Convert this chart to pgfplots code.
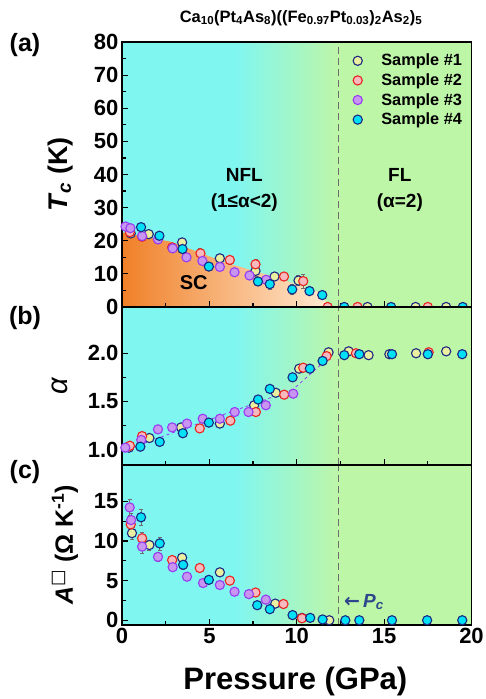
\documentclass[border=0pt]{standalone}
\usepackage{pgfplots}
\pgfplotsset{compat=1.18}
\usepackage{fontspec}
\setmainfont{Liberation Sans}
\newfontfamily\dejavu{DejaVu Sans}
\definecolor{cbg}{RGB}{128,246,240}
\definecolor{gbg}{RGB}{190,246,168}
\definecolor{scL}{RGB}{240,128,40}
\definecolor{scR}{RGB}{255,234,210}
\definecolor{sonee}{RGB}{30,40,130}
\definecolor{sonef}{RGB}{234,240,160}
\definecolor{stwoe}{RGB}{235,35,30}
\definecolor{stwof}{RGB}{245,185,190}
\definecolor{sthreee}{RGB}{150,60,240}
\definecolor{sthreef}{RGB}{200,150,240}
\definecolor{sfoure}{RGB}{25,40,130}
\definecolor{sfourf}{RGB}{0,225,245}
\definecolor{pcblue}{RGB}{45,70,140}
\definecolor{dgray}{RGB}{110,110,110}
\pgfplotsset{
  base/.style={scale only axis, width=349.5pt, xmin=0, xmax=20, xtick={0,5,...,20},
    minor x tick num=1, tick align=inside, xtick pos=bottom, ytick pos=left,
    axis line style={line width=1.6pt}, major tick length=6pt, minor tick length=4pt,
    every tick/.style={black, line width=1.2pt},
    tick label style={font=\fontsize{22}{24}\selectfont\bfseries},
    /pgf/number format/assume math mode=true, axis on top},
  s1/.style={only marks, mark=*, mark size=4.6pt, mark options={draw=sonee, fill=sonef, line width=1.1pt}},
  s2/.style={only marks, mark=*, mark size=4.6pt, mark options={draw=stwoe, fill=stwof, line width=1.1pt}},
  s3/.style={only marks, mark=*, mark size=4.6pt, mark options={draw=sthreee, fill=sthreef, line width=1.1pt}},
  s4/.style={only marks, mark=*, mark size=4.6pt, mark options={draw=sfoure, fill=sfourf, line width=1.1pt}},
  eb/.style={error bars/.cd, y dir=both, y explicit, error bar style={dgray, line width=0.5pt},
    error mark options={rotate=90, dgray, mark size=2pt, line width=0.5pt}},
}
\newcommand{\bg}[2]{%
  \fill[cbg] (axis cs:0,#1) rectangle (axis cs:6.5,#2);
  \shade[left color=cbg, right color=gbg] (axis cs:6.5,#1) rectangle (axis cs:12.4,#2);
  \fill[gbg] (axis cs:12.4,#1) rectangle (axis cs:20,#2);
  \draw[dgray, line width=1.5pt, dash pattern=on 7pt off 4pt] (axis cs:12.4,#1) -- (axis cs:12.4,#2);}
\begin{document}
\begin{tikzpicture}
\useasboundingbox (0,0) rectangle (485pt,-699pt);
\node[font=\fontsize{16.5}{18}\selectfont\bfseries] at (301pt,-18pt) {Ca\textsubscript{10}(Pt\textsubscript{4}As\textsubscript{8})((Fe\textsubscript{0.97}Pt\textsubscript{0.03})\textsubscript{2}As\textsubscript{2})\textsubscript{5}};
\node[font=\fontsize{25}{28}\selectfont\bfseries] at (25pt,-45pt) {(a)};
\node[font=\fontsize{25}{28}\selectfont\bfseries] at (25pt,-318pt) {(b)};
\node[font=\fontsize{25}{28}\selectfont\bfseries] at (25pt,-472pt) {(c)};
% ---------- (a)
\begin{axis}[base, at={(122pt,-42pt)}, anchor=north west, height=265pt,
  ymin=0, ymax=80, ytick={0,10,...,80}, minor y tick num=1, xticklabels={},
  ylabel={\textit{T}\textsubscript{\textit{c}} (K)},
  ylabel style={at={(axis description cs:-0.177,0.5)}, anchor=center, font=\fontsize{27}{30}\selectfont\bfseries},
  legend style={at={(axis description cs:0.655,0.97)}, anchor=north west, draw=none, fill=none,
    font=\fontsize{16.3}{18}\selectfont\bfseries, row sep=2.3pt, inner sep=2pt},
  legend cell align=left]
\bg{0}{80}
\addplot[draw=none, left color=scL, right color=scR, forget plot] coordinates {(0,22.5)(2.8,19.7)(6,13.3)(9,8.6)(11.2,4.6)(11.9,0)} \closedcycle;
\addplot[s1, eb] table[x=x, y=y, y error=e, row sep=\\] {x y e\\ 0.5 22.2 1\\ 1.53 22.0 1\\ 3.44 19.5 1.2\\ 5.6 14.7 1.2\\ 7.64 10.9 1.5\\ 8.73 9.2 1.2\\ 10.1 8.0 1.5\\ 14.05 0 0.5\\ 16.8 0 0.5\\ 18.55 0 0.5\\};
\addlegendentry{\hspace{17pt}Sample \#1}
\addplot[s2, eb] table[x=x, y=y, y error=e, row sep=\\] {x y e\\ 0.45 22.6 1\\ 1.15 21.2 1\\ 2.87 18.0 1.2\\ 4.49 16.2 1.5\\ 6.17 14.2 1.2\\ 7.64 12.9 1.5\\ 9.27 9.2 1.2\\ 10.37 7.8 2\\ 11.77 0 0.5\\ 13.48 0 0.5\\ 17.5 0 0.5\\};
\addlegendentry{\hspace{17pt}Sample \#2}
\addplot[s3, eb] table[x=x, y=y, y error=e, row sep=\\] {x y e\\ 0.2 24.3 1\\ 0.48 23.8 1\\ 1.15 21.4 1\\ 2.06 20.4 1\\ 2.9 17.7 1\\ 3.69 15.0 1\\ 4.6 13.9 1\\ 5.6 12.1 1\\ 6.44 10.5 1\\ 7.3 9.5 1\\ 8.25 8.2 1\\};
\addlegendentry{\hspace{17pt}Sample \#3}
\addplot[s4, eb] table[x=x, y=y, y error=e, row sep=\\] {x y e\\ 1.09 24.1 1\\ 2.14 21.5 1\\ 3.46 17.5 1\\ 4.97 12.2 1\\ 7.78 7.7 1\\ 8.46 6.9 1.5\\ 9.74 5.3 1.5\\ 10.73 4.8 1\\ 11.46 3.6 1\\ 12.72 0 0.5\\ 15.4 0 0.5\\ 19.5 0 0.5\\};
\addlegendentry{\hspace{17pt}Sample \#4}
\node[font=\fontsize{19}{26}\selectfont\bfseries, align=center] at (axis cs:7.0,35.3) {NFL\\(1≤α<2)};
\node[font=\fontsize{19}{26}\selectfont\bfseries, align=center] at (axis cs:15.9,35.2) {FL\\(α=2)};
\node[font=\fontsize{20}{24}\selectfont\bfseries] at (axis cs:4.1,7.5) {SC};
\end{axis}
% ---------- (b)
\begin{axis}[base, at={(122pt,-307pt)}, anchor=north west, height=158pt,
  ymin=0.84, ymax=2.48, ytick={1.0,1.5,2.0}, minor y tick num=1, xticklabels={},
  yticklabel style={/pgf/number format/.cd, fixed, fixed zerofill, precision=1},
  ylabel={\textit{α}},
  ylabel style={at={(axis description cs:-0.177,0.5)}, anchor=center, font=\fontsize{29}{30}\selectfont\mdseries}]
\bg{0.84}{2.48}
\addplot[dashed, color=sthreee, line width=0.8pt, forget plot] coordinates {(0.3,1.0)(2.6,1.155)(9.76,1.62)(11.5,1.9)};
\addplot[s1, eb] table[x=x, y=y, y error=e, row sep=\\] {x y e\\ 0.4 1.02 0.02\\ 1.57 1.12 0.02\\ 3.38 1.23 0.02\\ 5.6 1.27 0.02\\ 7.56 1.46 0.02\\ 8.8 1.59 0.02\\ 10.14 1.84 0.02\\ 11.82 2.01 0.03\\ 12.97 2.02 0.02\\ 14.11 1.98 0.02\\ 15.3 1.99 0.02\\ 16.83 2.00 0.02\\ 18.55 2.02 0.02\\};
\addplot[s2, eb] table[x=x, y=y, y error=e, row sep=\\] {x y e\\ 0.45 1.04 0.02\\ 1.15 1.14 0.02\\ 4.45 1.22 0.02\\ 6.2 1.30 0.02\\ 7.66 1.39 0.02\\ 9.28 1.57 0.02\\ 10.37 1.85 0.02\\ 11.71 1.97 0.02\\ 13.39 2.00 0.02\\ 17.55 2.01 0.02\\};
\addplot[s3, eb] table[x=x, y=y, y error=e, row sep=\\] {x y e\\ 0.19 1.02 0.02\\ 1.1 1.10 0.02\\ 2.06 1.21 0.02\\ 2.87 1.23 0.02\\ 3.72 1.27 0.02\\ 4.62 1.32 0.02\\ 5.6 1.32 0.02\\ 6.45 1.39 0.02\\ 7.24 1.39 0.02\\ 8.23 1.46 0.02\\ 9.8 1.58 0.02\\};
\addplot[s4, eb] table[x=x, y=y, y error=e, row sep=\\] {x y e\\ 1.05 1.03 0.02\\ 2.16 1.08 0.02\\ 3.48 1.17 0.02\\ 4.97 1.28 0.02\\ 7.79 1.52 0.02\\ 8.46 1.63 0.02\\ 9.76 1.75 0.02\\ 10.75 1.84 0.02\\ 11.48 1.92 0.02\\ 12.72 1.98 0.02\\ 13.58 1.99 0.02\\ 15.45 1.99 0.02\\ 17.5 1.99 0.02\\ 19.47 1.99 0.02\\};
\end{axis}
% ---------- (c)
\begin{axis}[base, at={(122pt,-465pt)}, anchor=north west, height=160pt,
  ymin=-0.6, ymax=19.6, ytick={0,5,10,15}, minor y tick num=1,
  xlabel={Pressure (GPa)},
  xlabel style={at={(axis description cs:0.496,-0.356)}, anchor=center, font=\fontsize{31}{34}\selectfont\bfseries},
  ylabel={\textit{A}\textsuperscript{\dejavu □} (Ω K\textsuperscript{-1})},
  ylabel style={at={(axis description cs:-0.163,0.5)}, anchor=center, font=\fontsize{25}{28}\selectfont\bfseries}]
\bg{-0.6}{19.6}
\addplot[s1, eb] table[x=x, y=y, y error=e, row sep=\\] {x y e\\ 0.57 11.0 0.8\\ 1.57 9.5 0.6\\ 3.44 7.9 0.6\\ 5.6 6.05 0.3\\ 8.77 2.1 0.3\\ 10.3 0.3 0.3\\ 11.86 0 0.3\\};
\addplot[s2, eb] table[x=x, y=y, y error=e, row sep=\\] {x y e\\ 0.5 12.1 0.8\\ 1.15 10.35 0.8\\ 2.87 7.6 0.5\\ 4.45 6.6 0.3\\ 6.17 5.0 0.3\\ 7.64 3.5 0.3\\ 9.24 2.05 0.3\\ 10.3 0.25 0.3\\};
\addplot[s3, eb] table[x=x, y=y, y error=e, row sep=\\] {x y e\\ 0.44 14.25 1\\ 0.52 12.65 0.8\\ 1.15 9.3 0.8\\ 2.06 8.0 0.6\\ 2.9 6.7 0.4\\ 3.72 5.5 0.3\\ 4.64 4.7 0.3\\ 5.6 4.45 0.3\\ 6.44 3.6 0.3\\ 7.26 3.3 0.3\\ 8.23 2.6 0.3\\};
\addplot[s4, eb] table[x=x, y=y, y error=e, row sep=\\] {x y e\\ 1.09 13.0 1\\ 2.16 9.7 0.8\\ 3.5 7.0 0.5\\ 4.97 5.1 0.3\\ 7.74 1.9 0.3\\ 8.46 1.4 0.3\\ 9.76 0.65 0.3\\ 10.77 0.3 0.3\\ 11.48 0.1 0.3\\ 12.78 0 0.3\\ 13.58 0 0.3\\ 15.45 0 0.3\\ 17.46 0 0.3\\ 19.47 0 0.3\\};
\node[anchor=west, text=pcblue, font=\fontsize{19}{22}\selectfont\bfseries, inner sep=0pt] at (axis cs:12.7,2.3) {{\dejavu ←}\,\textit{P}\textsubscript{\textit{c}}};
\end{axis}
\end{tikzpicture}
\end{document}
